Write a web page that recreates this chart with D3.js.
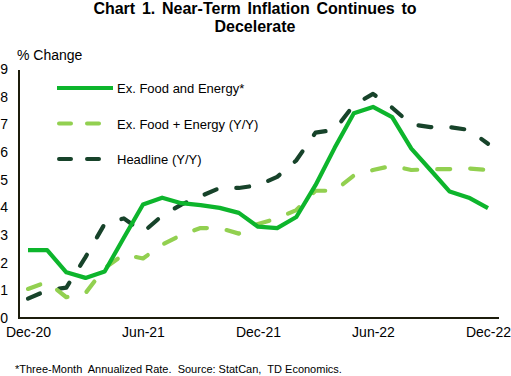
<!DOCTYPE html>
<html>
<head>
<meta charset="utf-8">
<script src="https://cdn.jsdelivr.net/npm/d3@7"></script>
<style>
  body { margin: 0; background: #fff; }
  svg { font-family: Arial, "Liberation Sans", sans-serif; }
</style>
</head>
<body>
<div id="chart"></div>
<script>
/* Chart 1. Near-term inflation continues to decelerate */

const months = ["Dec-20","Jan-21","Feb-21","Mar-21","Apr-21","May-21","Jun-21","Jul-21","Aug-21","Sep-21","Oct-21","Nov-21",
                "Dec-21","Jan-22","Feb-22","Mar-22","Apr-22","May-22","Jun-22","Jul-22","Aug-22","Sep-22","Oct-22","Nov-22","Dec-22"];
const coreAnnualized = [2.45,2.45,1.65,1.45,1.68,2.9,4.1,4.35,4.15,4.08,3.98,3.8,3.3,3.25,3.65,4.8,6.15,7.4,7.63,7.26,6.12,5.35,4.57,4.35,3.97];
const coreYoY = [1.05,1.3,0.75,0.9,1.8,2.3,2.15,2.65,3.0,3.25,3.25,3.05,3.4,3.6,3.9,4.6,4.6,5.15,5.35,5.5,5.35,5.38,5.38,5.4,5.35];
const headline = [0.7,1.0,1.1,2.2,3.4,3.6,3.1,3.7,4.1,4.4,4.7,4.7,4.8,5.1,5.7,6.7,6.8,7.7,8.1,7.6,7.0,6.9,6.9,6.8,6.3];
const xTicks = ["Dec-20","Jun-21","Dec-21","Jun-22","Dec-22"];
const yTicks = [0,1,2,3,4,5,6,7,8,9];

const series = [
    {name: "Ex. Food and Energy*", values: coreAnnualized, color: "#0db52c", dash: null},
    {name: "Ex. Food + Energy (Y/Y)", values: coreYoY, color: "#92d050", dash: "13,20"},
    {name: "Headline (Y/Y)", values: headline, color: "#17432a", dash: "13,20"}
];

const width = 511, height = 376,
      margin = ({top: 69, right: 12, bottom: 58, left: 19});

let svg = d3.select("#chart")
            .append("svg")
            .attr("width", width)
            .attr("height", height);

const x = d3.scalePoint()
            .domain(months)
            .range([28, 488]);

const y = d3.scaleLinear()
            .domain([0, 9])
            .range([height - margin.bottom, margin.top]);

// title
svg.append("text")
    .attr("x", 255).attr("y", 14)
    .attr("text-anchor", "middle")
    .style("font-size", "16px").style("font-weight", "bold")
    .style("word-spacing", "2.3px")
    .text("Chart 1. Near-Term Inflation Continues to");
svg.append("text")
    .attr("x", 255).attr("y", 32)
    .attr("text-anchor", "middle")
    .style("font-size", "16px").style("font-weight", "bold")
    .text("Decelerate");

svg.append("text")
    .attr("x", 17).attr("y", 60)
    .style("font-size", "14px")
    .text("% Change");

// axes
const yAxis = g => g
        .attr("transform", `translate(${margin.left},0)`)
        .call(d3.axisLeft(y).tickValues(yTicks).tickSize(0).tickPadding(11).tickFormat(d3.format("d")))
        .call(g => g.select(".domain").remove())
        .call(g => g.selectAll("text").style("font-size", "14px").attr("fill", "#000"));

const xAxis = g => g
        .attr("transform", `translate(0,${height - margin.bottom})`)
        .call(d3.axisBottom(x).tickValues(xTicks).tickSize(0).tickPadding(9))
        .call(g => g.select(".domain").remove())
        .call(g => g.selectAll("text").style("font-size", "14px").attr("fill", "#000"));

svg.append("g").call(yAxis);
svg.append("g").call(xAxis);

svg.append("path")
    .attr("d", `M${margin.left},${y(9) + 1}V${y(0)}H${width - margin.right}`)
    .attr("fill", "none")
    .attr("stroke", "#1c1c0c")
    .attr("stroke-width", 2);

// lines
const line = d3.line()
        .x((d, i) => x(months[i]))
        .y(d => y(d));

svg.selectAll(".series")
    .data(series.slice().reverse())
    .join("path")
    .attr("class", "series")
    .attr("d", d => line(d.values))
    .attr("fill", "none")
    .attr("stroke", d => d.color)
    .attr("stroke-width", 4.2)
    .attr("stroke-linecap", d => d.dash ? "round" : "butt")
    .attr("stroke-linejoin", "round")
    .attr("stroke-dasharray", d => d.dash);

// legend
const legend = svg.selectAll(".legend")
    .data(series)
    .join("g")
    .attr("class", "legend")
    .attr("transform", (d, i) => `translate(0,${88 + i * 35.5})`);

legend.append("line")
    .attr("x1", d => d.dash ? 59 : 57)
    .attr("x2", d => d.dash ? 99 : 113)
    .attr("stroke", d => d.color)
    .attr("stroke-width", 4)
    .attr("stroke-linecap", d => d.dash ? "round" : "butt")
    .attr("stroke-dasharray", d => d.dash ? "12,16" : null);

legend.append("text")
    .attr("x", 117).attr("y", 5)
    .style("font-size", "13px")
    .text(d => d.name);

// footnote
svg.append("text")
    .attr("x", 15).attr("y", 373)
    .attr("xml:space", "preserve")
    .style("font-size", "11px")
    .style("white-space", "pre")
    .text("*Three-Month  Annualized Rate.  Source: StatCan,  TD Economics.");
</script>
</body>
</html>
